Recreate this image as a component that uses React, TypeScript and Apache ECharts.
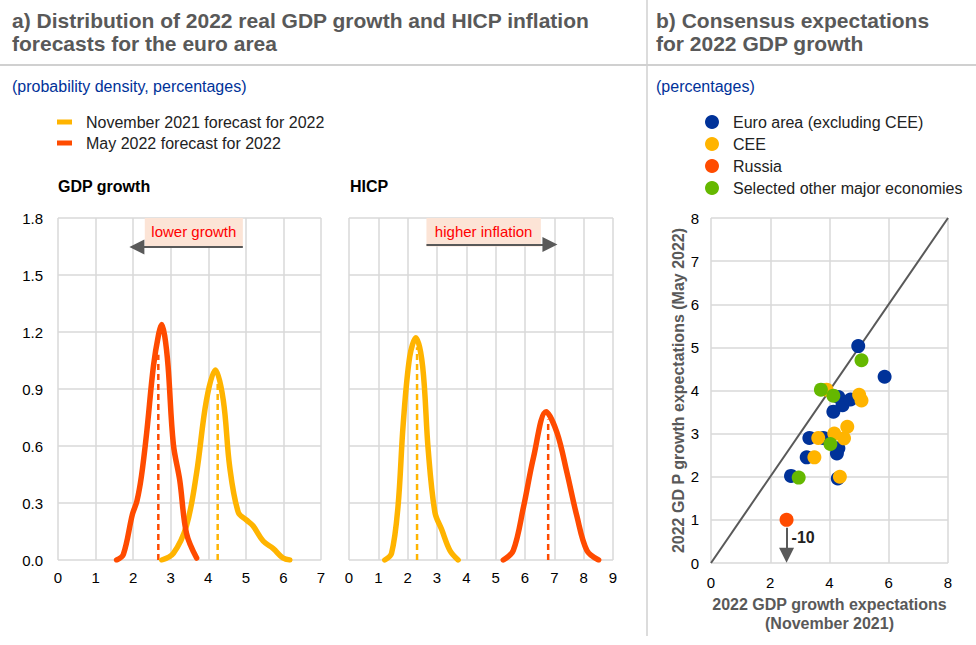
import React, { useEffect, useRef } from "react";
import * as echarts from "echarts";

const FONT = "'Liberation Sans', Arial, Helvetica, sans-serif";
const NOV = "November 2021 forecast for 2022";
const MAY = "May 2022 forecast for 2022";
const C_NOV = "#FFB400";
const C_MAY = "#FF4B00";
const C_BLUE = "#003299";
const C_GREEN = "#65B800";
const GRID_C = "#D9D9D9";
const GRAY = "#595959";

// Panel a) GDP growth densities
const gdpNovX = [2.76, 3.07, 3.42, 3.69, 3.95, 4.19, 4.4, 4.57, 4.8, 5.02, 5.19, 5.46, 5.73, 5.99, 6.17];
const gdpNovY = [0, 0.035, 0.18, 0.46, 0.84, 1.0, 0.84, 0.49, 0.25, 0.21, 0.18, 0.1, 0.06, 0.01, 0];
const gdpMayX = [1.56, 1.74, 1.98, 2.1, 2.22, 2.36, 2.54, 2.68, 2.76, 2.84, 2.93, 3.07, 3.24, 3.42, 3.69];
const gdpMayY = [0, 0.03, 0.24, 0.31, 0.44, 0.67, 1.02, 1.19, 1.24, 1.18, 1.02, 0.61, 0.42, 0.14, 0.01];
const gdpMeans = { nov: [4.25, 0.94], may: [2.67, 1.08] };

// Panel a) HICP densities
const hicpNovX = [1.22, 1.45, 1.67, 1.85, 2.07, 2.28, 2.51, 2.7, 2.93, 3.16, 3.44, 3.72];
const hicpNovY = [0, 0.035, 0.28, 0.72, 1.07, 1.17, 1.02, 0.58, 0.25, 0.16, 0.05, 0];
const hicpMayX = [5.26, 5.6, 5.95, 6.29, 6.72, 7.09, 7.43, 7.77, 8.11, 8.51];
const hicpMayY = [0, 0.05, 0.28, 0.54, 0.78, 0.67, 0.46, 0.23, 0.05, 0];
const hicpMeans = { nov: [2.32, 1.12], may: [6.79, 0.74] };

// Panel b) consensus expectations (Nov 2021 -> May 2022)
const euroX = [4.97, 5.86, 4.3, 4.44, 4.71, 4.13, 3.32, 3.79, 4.3, 4.25, 3.23, 2.7, 4.28];
const euroY = [5.03, 4.32, 3.85, 3.66, 3.79, 3.51, 2.9, 2.9, 2.66, 2.54, 2.45, 2.02, 1.96];
const ceeX = [3.9, 5.0, 5.08, 4.6, 3.62, 4.16, 4.49, 3.49, 4.35];
const ceeY = [4.02, 3.9, 3.77, 3.16, 2.9, 3.0, 2.89, 2.45, 2.0];
const russiaX = [2.55];
const russiaY = [1.0];
const otherX = [5.08, 3.71, 4.13, 4.03, 2.96];
const otherY = [4.7, 4.02, 3.88, 2.76, 1.98];
const diagonal = [0, 8];

const zip = (xs: number[], ys: number[]) => xs.map((x, i) => [x, ys[i]]);

export default function App() {
  const ref = useRef<HTMLDivElement>(null);
  useEffect(() => {
    if (!ref.current) return;
    const chart = echarts.init(ref.current, undefined, { renderer: "svg" });

    const densityLine = (name: string, color: string, xi: number, data: number[][]) => ({
      type: "line",
      name,
      xAxisIndex: xi,
      yAxisIndex: xi,
      data,
      smooth: 0.35,
      showSymbol: false,
      symbol: "none",
      z: 5,
      lineStyle: { color, width: 5.5, cap: "round", join: "round" },
      itemStyle: { color },
    });
    const meanLine = (name: string, color: string, xi: number, m: number[]) => ({
      type: "line",
      name,
      xAxisIndex: xi,
      yAxisIndex: xi,
      data: [[m[0], 0], [m[0], m[1]]],
      showSymbol: false,
      symbol: "none",
      z: 4,
      lineStyle: { color, width: 2.5, type: [6, 4] },
    });

    const valueX = (gi: number, max: number) => ({
      type: "value",
      gridIndex: gi,
      min: 0,
      max,
      interval: 1,
      axisLine: { show: false },
      axisTick: { show: false },
      axisLabel: { color: "#000", fontSize: 15, fontFamily: FONT, margin: 10 },
      splitLine: { show: true, lineStyle: { color: GRID_C, width: 1.5 } },
    });
    const densY = (gi: number, showLabels: boolean) => ({
      type: "value",
      gridIndex: gi,
      min: 0,
      max: 1.8,
      interval: 0.3,
      axisLine: { show: false },
      axisTick: { show: false },
      axisLabel: {
        show: showLabels,
        color: "#000",
        fontSize: 15,
        fontFamily: FONT,
        margin: 15,
        formatter: (v: number) => v.toFixed(1),
      },
      splitLine: { show: true, lineStyle: { color: GRID_C, width: 1.5 } },
    });

    const annot = (text: string, box: number[][], arrow: number[][]) => ({
      markArea: {
        silent: true,
        itemStyle: { color: "#FCE4D6" },
        label: {
          show: true,
          position: "inside",
          color: "#FF0000",
          fontSize: 15,
          fontFamily: FONT,
          formatter: text,
          offset: [0, -1],
        },
        data: [[{ coord: box[0] }, { coord: box[1] }]],
      },
      markLine: {
        silent: true,
        symbol: ["none", "triangle"],
        symbolSize: [15, 15],
        lineStyle: { color: GRAY, width: 2, type: "solid" },
        label: { show: false },
        data: [[{ coord: arrow[0] }, { coord: arrow[1] }]],
      },
    });

    const scatterSeries = (name: string, color: string, xs: number[], ys: number[], z: number) => ({
      type: "scatter",
      name,
      xAxisIndex: 2,
      yAxisIndex: 2,
      data: zip(xs, ys),
      symbolSize: 14,
      z,
      itemStyle: { color, opacity: 1 },
    });

    const option: any = {
      animation: false,
      textStyle: { fontFamily: FONT },
      title: [
        {
          text: "a) Distribution of 2022 real GDP growth and HICP inflation\nforecasts for the euro area",
          left: 7,
          top: 4,
          textStyle: { fontSize: 21, fontWeight: "bold", color: GRAY, lineHeight: 23, fontFamily: FONT },
        },
        {
          text: "b) Consensus expectations\nfor 2022 GDP growth",
          left: 651,
          top: 4,
          textStyle: { fontSize: 21, fontWeight: "bold", color: GRAY, lineHeight: 23, fontFamily: FONT },
        },
        {
          text: "(probability density, percentages)",
          left: 7,
          top: 73,
          textStyle: { fontSize: 16, fontWeight: "normal", color: C_BLUE, fontFamily: FONT },
        },
        {
          text: "(percentages)",
          left: 651,
          top: 73,
          textStyle: { fontSize: 16, fontWeight: "normal", color: C_BLUE, fontFamily: FONT },
        },
        {
          text: "GDP growth",
          left: 53,
          top: 173,
          textStyle: { fontSize: 16, fontWeight: "bold", color: "#000", fontFamily: FONT },
        },
        {
          text: "HICP",
          left: 345,
          top: 173,
          textStyle: { fontSize: 16, fontWeight: "bold", color: "#000", fontFamily: FONT },
        },
      ],
      legend: [
        {
          data: [NOV, MAY],
          orient: "vertical",
          left: 52,
          top: 109,
          icon: "rect",
          itemWidth: 15,
          itemHeight: 5,
          itemGap: 5,
          selectedMode: false,
          textStyle: { fontSize: 16, color: "#222", fontFamily: FONT, lineHeight: 16, padding: [0, 0, 0, 9] },
        },
        {
          data: ["Euro area (excluding CEE)", "CEE", "Russia", "Selected other major economies"],
          orient: "vertical",
          left: 700,
          top: 109,
          icon: "circle",
          itemWidth: 14,
          itemHeight: 14,
          itemGap: 6,
          selectedMode: false,
          textStyle: { fontSize: 16, color: "#222", fontFamily: FONT, lineHeight: 16, padding: [0, 0, 0, 9] },
        },
      ],
      grid: [
        { left: 58, top: 218, width: 263, height: 342 },
        { left: 349, top: 218, width: 264, height: 342 },
        { left: 711, top: 218, width: 237, height: 345 },
      ],
      xAxis: [
        valueX(0, 7),
        valueX(1, 9),
        {
          ...valueX(2, 8),
          interval: 2,
          axisLabel: { color: "#000", fontSize: 15, fontFamily: FONT, margin: 12 },
          name: "2022 GDP growth expectations\n(November 2021)",
          nameLocation: "middle",
          nameGap: 30,
          nameTextStyle: { color: GRAY, fontWeight: "bold", fontSize: 16, lineHeight: 19, fontFamily: FONT, verticalAlign: "top" },
        },
      ],
      yAxis: [
        densY(0, true),
        densY(1, false),
        {
          type: "value",
          gridIndex: 2,
          min: 0,
          max: 8,
          interval: 1,
          axisLine: { show: false },
          axisTick: { show: false },
          axisLabel: { color: "#000", fontSize: 15, fontFamily: FONT, margin: 12 },
          splitLine: { show: true, lineStyle: { color: GRID_C, width: 1.5 } },
          name: "2022 GD P growth expectations (May 2022)",
          nameLocation: "middle",
          nameRotate: 90,
          nameGap: 21,
          nameTextStyle: { color: GRAY, fontWeight: "bold", fontSize: 16, fontFamily: FONT },
        },
      ],
      series: [
        {
          ...meanLine("gdp-may-mean", C_MAY, 0, gdpMeans.may),
          ...annot("lower growth", [[2.31, 1.8], [4.92, 1.647]], [[4.92, 1.647], [2.1, 1.647]]),
        },
        meanLine("gdp-nov-mean", C_NOV, 0, gdpMeans.nov),
        densityLine(NOV, C_NOV, 0, zip(gdpNovX, gdpNovY)),
        densityLine(MAY, C_MAY, 0, zip(gdpMayX, gdpMayY)),
        {
          ...meanLine("hicp-nov-mean", C_NOV, 1, hicpMeans.nov),
          ...annot("higher inflation", [[2.64, 1.8], [6.54, 1.65]], [[2.64, 1.66], [6.85, 1.66]]),
        },
        meanLine("hicp-may-mean", C_MAY, 1, hicpMeans.may),
        densityLine(NOV, C_NOV, 1, zip(hicpNovX, hicpNovY)),
        densityLine(MAY, C_MAY, 1, zip(hicpMayX, hicpMayY)),
        {
          type: "line",
          name: "diagonal",
          xAxisIndex: 2,
          yAxisIndex: 2,
          data: zip(diagonal, diagonal),
          symbol: "none",
          showSymbol: false,
          z: 2,
          lineStyle: { color: GRAY, width: 2 },
        },
        scatterSeries("Euro area (excluding CEE)", C_BLUE, euroX, euroY, 3),
        scatterSeries("CEE", C_NOV, ceeX, ceeY, 4),
        {
          ...scatterSeries("Russia", C_MAY, russiaX, russiaY, 5),
          markLine: {
            silent: true,
            symbol: ["none", "triangle"],
            symbolSize: [15, 15],
            lineStyle: { color: GRAY, width: 2, type: "solid" },
            label: { show: false },
            data: [[{ coord: [russiaX[0], 0.82] }, { coord: [russiaX[0], 0.18] }]],
          },
          markPoint: {
            silent: true,
            symbol: "circle",
            symbolSize: 0,
            label: {
              show: true,
              position: "right",
              distance: 0,
              formatter: "-10",
              color: "#222",
              fontWeight: "bold",
              fontSize: 16,
              fontFamily: FONT,
            },
            data: [{ coord: [2.72, 0.58] }],
          },
        },
        scatterSeries("Selected other major economies", C_GREEN, otherX, otherY, 6),
      ],
      graphic: [
        { type: "line", shape: { x1: 0, y1: 65, x2: 976, y2: 65 }, style: { stroke: "#D0D0D0", lineWidth: 2 } },
        { type: "line", shape: { x1: 647, y1: 0, x2: 647, y2: 636 }, style: { stroke: "#D0D0D0", lineWidth: 1.5 } },
      ],
    };
    chart.setOption(option);
    return () => chart.dispose();
  }, []);
  return (
    <div
      ref={ref}
      style={{ position: "absolute", left: 0, top: 0, width: 976, height: 645, background: "#fff" }}
    />
  );
}
